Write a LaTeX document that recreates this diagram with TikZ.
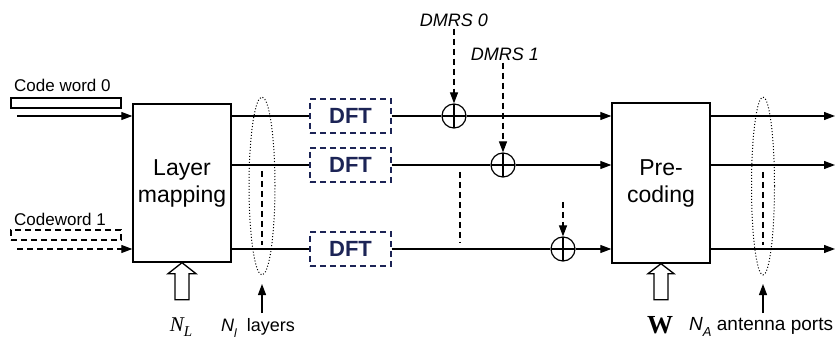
\documentclass[tikz,border=0pt]{standalone}
\usepackage{fontspec}
\setmainfont{Liberation Sans}
\newfontfamily\seriffont{Liberation Serif}
\usetikzlibrary{arrows.meta,shapes.geometric}
\definecolor{navy}{HTML}{1C2456}
\begin{document}
\begin{tikzpicture}[x=1pt,y=-1pt,
 ln/.style={line width=1.2pt},
 tip/.style={-{Triangle[length=11pt,width=8pt]}},
 arr/.style={ln,tip},
 dsh/.style={line width=1.2pt,dash pattern=on 6pt off 4pt},
 blk/.style={draw,line width=1.4pt,minimum width=98pt,minimum height=158pt,inner sep=0pt,align=center,font=\fontsize{23}{27}\selectfont},
 dft/.style={draw=navy,text=navy,dsh,minimum width=81pt,minimum height=34pt,inner sep=0pt,font=\fontsize{22}{26}\selectfont\bfseries},
 sumc/.style={draw,circle,line width=1.2pt,minimum size=24pt,inner sep=0pt,
   path picture={\draw[line width=1.2pt] (path picture bounding box.north) -- (path picture bounding box.south) (path picture bounding box.west) -- (path picture bounding box.east);}},
 grp/.style={draw,ellipse,dotted,line width=1pt,minimum width=26pt,minimum height=178pt,inner sep=0pt},
 lbl/.style={font=\fontsize{17}{20}\selectfont,anchor=west,inner sep=0pt},
 cwbox/.style={draw,line width=1.2pt,minimum width=110pt,minimum height=10pt,inner sep=0pt},
 hollow/.style={draw,line width=1.3pt,fill=white}
]
\useasboundingbox (0,0) rectangle (839,342);

% main blocks
\node[blk] (lm) at (182,183) {Layer\\mapping};
\node[blk,minimum height=160pt] (pc) at (661,183) {Pre-\\coding};

% code words
\node[lbl] (t0) at (14,85) {Code word 0};
\node[cwbox] (cw0) at (66,103) {};
\node[lbl] (t1) at (14,219) {Codeword 1};
\node[cwbox,dsh] (cw1) at (66,235) {};
\coordinate (i0) at (17,116);
\coordinate (i1) at (17,249);
\draw[arr] (i0) -- (lm.west |- i0);
\draw[dsh,tip] (i1) -- (lm.west |- i1);

% DFT blocks
\node[dft] (d1) at (350.5,116) {DFT};
\node[dft] (d2) at (350.5,165) {DFT};
\node[dft] (d3) at (350.5,249) {DFT};

% adders
\node[sumc] (s1) at (454,116) {};
\node[sumc] (s2) at (503,165) {};
\node[sumc] (s3) at (563,249) {};

% lines
\draw[ln] (lm.east |- d1.west) -- (d1.west);
\draw[ln] (lm.east |- d2.west) -- (d2.west);
\draw[ln] (lm.east |- d3.west) -- (d3.west);
\draw[ln] (d1.east) -- (s1.west);
\draw[ln] (d2.east) -- (s2.west);
\draw[ln] (d3.east) -- (s3.west);
\draw[arr] (s1.east) -- (pc.west |- s1.east);
\draw[arr] (s2.east) -- (pc.west |- s2.east);
\draw[arr] (s3.east) -- (pc.west |- s3.east);

% DMRS
\node[font=\fontsize{18}{21}\selectfont\itshape,inner sep=2pt] (dm0) at (454,20) {DMRS 0};
\node[font=\fontsize{18}{21}\selectfont\itshape,inner sep=2pt] (dm1) at (505,54) {DMRS 1};
\coordinate (dm2) at (563,202);
\draw[dsh,tip] (dm0.south) -- (s1.north);
\draw[dsh,tip] (s2.north |- dm1.south) -- (s2.north);
\draw[dsh,tip] (dm2) -- (s3.north);
\coordinate (mv1) at (460,172);
\coordinate (mv2) at (460,243);
\draw[dsh] (mv1) -- (mv2);

% outputs
\coordinate (o1) at (835,116);
\coordinate (o2) at (835,165);
\coordinate (o3) at (835,249);
\draw[arr] (pc.east |- o1) -- (o1);
\draw[arr] (pc.east |- o2) -- (o2);
\draw[arr] (pc.east |- o3) -- (o3);

% layer groups
\node[grp] (e1) at (262,186) {};
\node[grp,minimum width=23pt] (e2) at (763,186) {};
\coordinate (v1a) at (262,171);
\coordinate (v1b) at (262,245);
\coordinate (v2a) at (763,172);
\coordinate (v2b) at (763,245);
\draw[dsh] (v1a) -- (v1b);
\draw[dsh] (v2a) -- (v2b);
\coordinate (a1) at (262,313);
\coordinate (a2) at (763,313);
\draw[arr] (a1) -- (e1.south |- 0,284);
\draw[arr] (a2) -- (e2.south |- 0,284);

% hollow block arrows
\draw[hollow] (lm.south) -- ++(14,11) -- ++(-7,0) -- ++(0,26) -- ++(-14,0) -- ++(0,-26) -- ++(-7,0) -- cycle;
\draw[hollow] (pc.south) -- ++(13,10) -- ++(-6,0) -- ++(0,26) -- ++(-14,0) -- ++(0,-26) -- ++(-6,0) -- cycle;

% bottom labels
\node[inner sep=0pt] (nl) at (181,327) {\seriffont\itshape\fontsize{21}{24}\selectfont N\raisebox{-0.22em}{\fontsize{15}{17}\selectfont L}};
\node[inner sep=0pt,anchor=west,font=\fontsize{18}{21}\selectfont] (nll) at (221,328) {\itshape N\raisebox{-0.3em}{\fontsize{12}{14}\selectfont l}\upshape\ \ layers};
\node[inner sep=0pt] (w) at (660,325) {\seriffont\bfseries\fontsize{26}{30}\selectfont W};
\node[inner sep=0pt,anchor=west,font=\fontsize{19}{22}\selectfont] (na) at (689,327) {\itshape N\raisebox{-0.3em}{\fontsize{13}{15}\selectfont A}\upshape\ antenna ports};
\end{tikzpicture}
\end{document}
